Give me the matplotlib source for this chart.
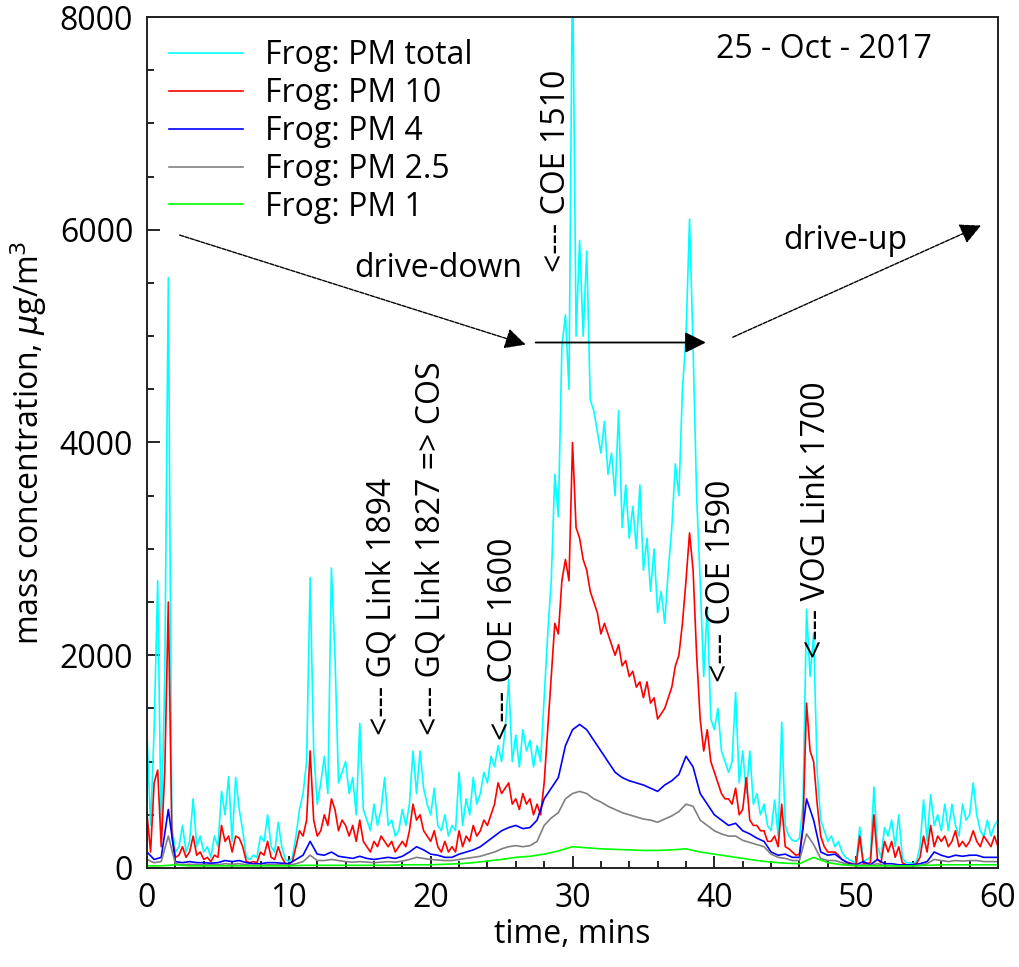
import numpy as np
import matplotlib
matplotlib.use('Agg')
import matplotlib.pyplot as plt
from matplotlib.ticker import MultipleLocator

plt.rcParams['font.family'] = ['Open Sans', 'DejaVu Sans']

# time grids, minutes
t_fine = np.arange(0, 60.001, 0.25)
t_mid = np.arange(0, 60.001, 0.5)
t_coarse = np.arange(0, 60.001, 1.0)

# Frog: PM total, every 0.25 min (one row = 5 min)
pm_total = [
    1250, 400, 1300, 2700, 300, 1800, 5550, 400, 150, 200, 400, 150, 250, 650, 200, 300, 150, 200, 100, 300,
    200, 720, 500, 860, 250, 850, 550, 350, 100, 80, 120, 100, 300, 250, 500, 200, 150, 430, 200, 80,
    60, 100, 300, 550, 700, 1000, 2730, 1100, 600, 800, 1050, 700, 2820, 2000, 800, 900, 1000, 700, 850, 500,
    1360, 550, 450, 350, 600, 400, 550, 850, 400, 450, 300, 350, 550, 400, 600, 1100, 700, 1100, 750, 600,
    500, 750, 400, 350, 500, 300, 400, 350, 900, 400, 650, 500, 850, 600, 700, 900, 800, 1050, 950, 1150,
    1000, 1300, 1770, 1000, 1250, 950, 1300, 1100, 1200, 950, 1150, 1000, 1600, 2200, 2700, 3700, 3300, 4900, 5200, 4500,
    8600, 5000, 5900, 5000, 5800, 4400, 4300, 4100, 3900, 4200, 3700, 3900, 3500, 4300, 3200, 3600, 3100, 3400, 3000, 3600,
    2800, 3100, 2600, 3000, 2400, 2600, 2300, 2800, 3200, 3800, 3500, 4500, 5000, 6100, 4900, 3500, 2700, 1800, 2450, 1400,
    1300, 1500, 1100, 1000, 900, 1000, 1650, 800, 1100, 700, 1100, 600, 700, 500, 600, 400, 350, 640, 300, 1370,
    400, 300, 260, 250, 280, 600, 2430, 1800, 2200, 900, 450, 350, 250, 300, 200, 250, 150, 100, 80, 60,
    50, 385, 60, 80, 100, 760, 200, 100, 380, 300, 450, 200, 500, 100, 50, 50, 40, 60, 200, 640,
    250, 690, 400, 500, 350, 600, 350, 600, 400, 300, 600, 450, 500, 800, 500, 350, 300, 450, 300, 400,
    450]

# Frog: PM 10, every 0.25 min
pm10 = [
    500, 150, 800, 920, 200, 900, 2500, 300, 100, 120, 200, 100, 150, 300, 120, 150, 80, 100, 60, 120,
    100, 400, 250, 300, 150, 300, 280, 200, 60, 50, 60, 50, 150, 120, 250, 100, 80, 200, 100, 40,
    40, 60, 200, 350, 300, 450, 1100, 450, 300, 350, 500, 400, 650, 550, 350, 450, 400, 300, 400, 250,
    450, 250, 200, 150, 250, 200, 300, 250, 200, 250, 150, 200, 250, 200, 350, 600, 450, 500, 350, 300,
    250, 350, 200, 150, 250, 150, 200, 150, 350, 200, 300, 250, 400, 300, 350, 450, 400, 500, 600, 800,
    700, 750, 800, 600, 650, 550, 700, 600, 650, 500, 600, 500, 800, 1300, 1800, 2300, 2200, 2700, 2900, 2700,
    4000, 3200, 3100, 2900, 2800, 2600, 2500, 2400, 2200, 2300, 2200, 2100, 2000, 2100, 1900, 1950, 1800, 1850, 1700, 1750,
    1600, 1750, 1550, 1600, 1400, 1450, 1500, 1600, 1700, 1900, 2000, 2300, 2700, 3150, 2800, 2000, 1400, 1100, 1300, 1000,
    900, 800, 700, 650, 650, 600, 750, 500, 550, 850, 450, 400, 400, 350, 350, 250, 250, 300, 200, 600,
    200, 180, 150, 120, 130, 400, 1550, 1100, 1000, 600, 300, 200, 150, 150, 150, 120, 80, 60, 50, 40,
    30, 300, 40, 40, 50, 500, 80, 50, 250, 150, 250, 100, 200, 50, 30, 30, 30, 40, 100, 300,
    150, 400, 200, 300, 250, 300, 200, 250, 350, 200, 250, 200, 250, 350, 250, 200, 300, 250, 200, 300,
    200]

# Frog: PM 4, every 0.5 min
pm4 = [
    150, 80, 100, 550, 60, 50, 60, 50, 50, 45,
    50, 70, 60, 70, 50, 40, 40, 50, 50, 45,
    40, 80, 120, 250, 130, 120, 150, 110, 100, 90,
    110, 90, 80, 90, 100, 90, 110, 150, 200, 170,
    130, 120, 100, 100, 130, 150, 170, 200, 250, 300,
    350, 380, 400, 370, 380, 450, 650, 750, 850, 1150,
    1300, 1350, 1300, 1200, 1100, 1000, 900, 850, 820, 800,
    780, 750, 720, 780, 820, 880, 1050, 950, 700, 600,
    500, 450, 400, 420, 350, 320, 280, 250, 150, 120,
    130, 100, 100, 650, 450, 150, 120, 130, 80, 40,
    30, 60, 30, 80, 40, 40, 30, 30, 30, 40,
    60, 150, 120, 100, 120, 110, 120, 120, 100, 100,
    100]

# Frog: PM 2.5, every 0.5 min
pm25 = [
    80, 50, 60, 300, 40, 30, 35, 30, 30, 30,
    30, 40, 35, 40, 30, 25, 25, 30, 30, 30,
    25, 40, 60, 120, 70, 70, 80, 70, 60, 55,
    60, 55, 50, 55, 60, 55, 65, 80, 100, 90,
    80, 75, 70, 70, 80, 90, 100, 110, 130, 150,
    180, 200, 210, 200, 210, 250, 400, 470, 520, 650,
    700, 720, 700, 650, 620, 580, 550, 520, 500, 480,
    460, 450, 430, 460, 490, 530, 600, 580, 450, 400,
    350, 320, 300, 300, 260, 240, 220, 200, 130, 100,
    90, 70, 70, 320, 220, 90, 70, 70, 50, 30,
    25, 30, 25, 40, 25, 25, 20, 20, 20, 25,
    40, 80, 70, 60, 70, 65, 70, 70, 60, 60,
    60]

# Frog: PM 1, every 1 min
pm1 = [
    20, 20, 30, 20, 20, 20, 20, 20, 20, 20,
    20, 25, 25, 25, 25, 25, 25, 25, 30, 30,
    30, 35, 40, 50, 65, 80, 100, 110, 130, 160,
    200, 190, 180, 175, 170, 165, 165, 170, 180, 150,
    130, 110, 90, 70, 55, 45, 40, 100, 50, 30,
    20, 20, 20, 20, 20, 25, 30, 30, 30, 30,
    30]

# vertical site notes: (time, level, text)
notes = [
    (16.6, 1250, '<--- GQ Link 1894'),
    (20.0, 1250, '<--- GQ Link 1827 => COS'),
    (25.1, 1200, '<--- COE 1600'),
    (28.9, 5600, '<--- COE 1510'),
    (40.5, 1750, '<--- COE 1590'),
    (47.2, 1970, '<--- VOG Link 1700'),
]

fs = 23

fig = plt.figure(figsize=(10.19, 9.67), dpi=100)
ax = fig.add_axes([0.1443, 0.1024, 0.8351, 0.8800])

ax.plot(t_fine, pm_total, color='#00ffff', lw=1.2, label='Frog: PM total')
ax.plot(t_fine, pm10, color='#ff0000', lw=1.2, label='Frog: PM 10')
ax.plot(t_mid, pm4, color='#0000ff', lw=1.2, label='Frog: PM 4')
ax.plot(t_mid, pm25, color='#808080', lw=1.2, label='Frog: PM 2.5')
ax.plot(t_coarse, pm1, color='#00ff00', lw=1.2, label='Frog: PM 1')

ax.set_xlim(0, 60)
ax.set_ylim(0, 8000)
ax.xaxis.set_major_locator(MultipleLocator(10))
ax.xaxis.set_minor_locator(MultipleLocator(2))
ax.yaxis.set_major_locator(MultipleLocator(2000))
ax.yaxis.set_minor_locator(MultipleLocator(500))
ax.tick_params(which='both', direction='in', labelsize=fs, top=False, right=False)
ax.tick_params(which='major', length=9, width=1.2, pad=10)
ax.tick_params(which='minor', length=5, width=1.2)
for s in ax.spines.values():
    s.set_linewidth(1.4)
    s.set_color('#222222')

ax.set_xlabel('time, mins', fontsize=fs, labelpad=2)
ax.set_ylabel(r'mass concentration, $\mu$g/m$^3$', fontsize=fs, labelpad=8)

for x, y, s in notes:
    ax.text(x, y, s, rotation=90, ha='center', va='bottom', fontsize=fs)

ax.text(47.7, 7690, '25 - Oct - 2017', ha='center', va='center', fontsize=fs)
ax.text(20.5, 5640, 'drive-down', ha='center', va='center', fontsize=fs)
ax.text(49.2, 5900, 'drive-up', ha='center', va='center', fontsize=fs)

# drive arrows
ax.annotate('', xy=(26.7, 4920), xytext=(2.3, 5950),
            arrowprops=dict(arrowstyle='-|>', mutation_scale=32, lw=1.0,
                            color='black', linestyle=(0, (3, 1)), shrinkA=0, shrinkB=0))
ax.annotate('', xy=(39.4, 4940), xytext=(27.4, 4940),
            arrowprops=dict(arrowstyle='-|>', mutation_scale=32, lw=1.3,
                            color='black', shrinkA=0, shrinkB=0))
ax.annotate('', xy=(58.8, 6040), xytext=(41.3, 4990),
            arrowprops=dict(arrowstyle='-|>', mutation_scale=32, lw=1.0,
                            color='black', linestyle=(0, (3, 1)), shrinkA=0, shrinkB=0))

ax.legend(loc='upper left', frameon=False, fontsize=fs, handlelength=2.3,
          handletextpad=0.7, labelspacing=0.15, borderaxespad=0.3)

fig.savefig('out.png', dpi=100)
